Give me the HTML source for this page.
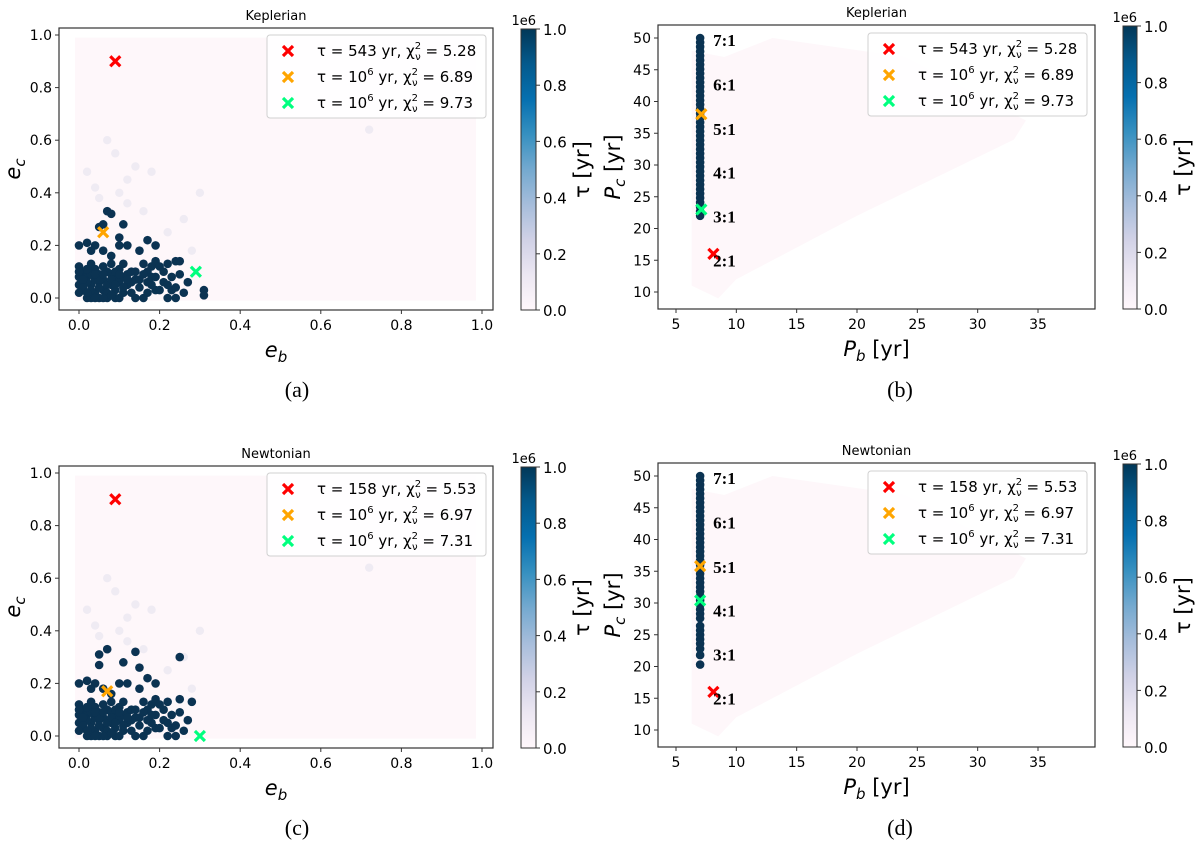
<!DOCTYPE html>
<html><head><meta charset="utf-8"><style>
body{margin:0;background:#fff}
svg{display:block;font-family:"DejaVu Sans","Liberation Sans",sans-serif}
</style></head><body>
<svg id="fig" width="1200" height="847" viewBox="0 0 1200 847" xmlns="http://www.w3.org/2000/svg">
<defs><linearGradient id="pubu" x1="0" y1="1" x2="0" y2="0">
<stop offset="0" stop-color="#fff7fb"/><stop offset="0.125" stop-color="#ece7f2"/><stop offset="0.25" stop-color="#d0d1e6"/><stop offset="0.375" stop-color="#a6bddb"/><stop offset="0.5" stop-color="#74a9cf"/><stop offset="0.625" stop-color="#3690c0"/><stop offset="0.75" stop-color="#0570b0"/><stop offset="0.875" stop-color="#045a8d"/><stop offset="1" stop-color="#023858"/></linearGradient></defs>
</svg>
<script>
// ---- data ----
const eccTicks = [0, 0.2, 0.4, 0.6, 0.8, 1.0];
const eccTickLabels = ["0.0","0.2","0.4","0.6","0.8","1.0"];
const pbTicks = [5,10,15,20,25,30,35];
const pcTicks = [10,15,20,25,30,35,40,45,50];
const cbarTicks = [0,0.2,0.4,0.6,0.8,1.0];
const cbarLabels = ["0.0","0.2","0.4","0.6","0.8","1.0"];
const resonanceLabels = ["7:1","6:1","5:1","4:1","3:1","2:1"];
const resonancePc = [49.7,42.7,35.7,28.8,21.9,15.0];
const darkCommonEb = [0,0.02,0.04,0.03,0.06,0.08,0.10,0.12,0.15,0.17,0.0,0.01,0.02,0.03,0.04,0.05,0.06,0.07,0.08,0.09,0.10,0.11,0.12,0.13,0.14,0.16,0.17,0.18,0.19,0.20,0.21,0.22,0.23,0.25,0.27,0.0,0.01,0.02,0.03,0.04,0.05,0.06,0.07,0.08,0.09,0.10,0.11,0.12,0.13,0.15,0.16,0.17,0.18,0.19,0.22,0.23,0.24,0.26,0.0,0.02,0.04,0.06,0.08,0.03,0.05,0.09,0.14,
 0.01,0.03,0.05,0.07,0.09,0.11,0.13,0.0,0.02,0.04,0.06,0.08,0.10,0.12,0.14,0.01,0.03,0.05,0.07,0.09,0.11,0.0,0.02,0.04,0.06,0.08,0.10,0.15,0.17,0.19,0.21,0.16,0.18,0.20,0.22,0.24];
const darkCommonEc = [0.2,0.21,0.2,0.18,0.18,0.16,0.2,0.2,0.18,0.22,0.12,0.1,0.08,0.13,0.11,0.09,0.12,0.1,0.13,0.08,0.11,0.13,0.09,0.1,0.07,0.13,0.1,0.12,0.14,0.12,0.1,0.13,0.08,0.09,0.06,0.05,0.03,0.0,0.05,0.02,0.06,0.03,0.0,0.05,0.03,0.06,0.02,0.05,0.02,0.04,0.0,0.02,0.05,0.03,0.0,0.03,0.0,0.02,0.08,0.06,0.07,0.07,0.09,0.0,0.0,0.0,0.0,
 0.07,0.09,0.07,0.05,0.1,0.08,0.06,0.1,0.11,0.09,0.09,0.07,0.09,0.07,0.1,0.04,0.03,0.04,0.02,0.05,0.04,0.02,0.02,0.0,0.0,0.01,0.0,0.07,0.06,0.08,0.06,0.09,0.08,0.03,0.05,0.04];
const darkExtraAEb = [0.05,0.06,0.07,0.08,0.11,0.10,0.19,0.24,0.25,0.31,0.31];
const darkExtraAEc = [0.27,0.28,0.33,0.32,0.28,0.23,0.2,0.14,0.14,0.03,0.01];
const darkExtraCEb = [0.05,0.07,0.14,0.25,0.11,0.15,0.05,0.19,0.25,0.28,0.02];
const darkExtraCEc = [0.31,0.33,0.32,0.30,0.28,0.26,0.27,0.20,0.14,0.13,0.21];
const paleEb = [0.07,0.09,0.14,0.12,0.1,0.18,0.02,0.04,0.12,0.05,0.16,0.26,0.3,0.22,0.28,0.72];
const paleEc = [0.6,0.55,0.5,0.45,0.4,0.48,0.48,0.42,0.36,0.38,0.33,0.3,0.4,0.25,0.18,0.64];
const colBPc = [22,22.7,23.4,24.1,24.8,25.5,26.2,26.9,27.6,28.3,29,29.7,30.4,31.1,31.8,32.5,33.2,33.9,34.6,35.3,36,36.7,37.4,38.1,38.8,39.5,40.2,40.9,41.6,42.3,43,43.7,44.4,45.1,45.8,46.5,47.2,47.9,48.6,49.3,50];
const colDPc = [20.3,21.8,22.8,23.6,24.3,25,25.7,26.4,27.6,28.3,29,29.7,30.4,31.1,31.8,32.5,33.2,33.9,34.6,35.3,36,36.7,37.4,38.1,38.8,39.5,40.2,40.9,41.6,42.3,43,43.7,44.4,45.1,45.8,46.5,47.2,47.9,48.6,49.3,50];
const regionPb = [6.3,9,13,24,34,33,20,10,8.5,6.3];
const regionPc = [48,47,50,47,37,34,22,12,9,11];
const bestA = {eb:[0.09,0.06,0.29], ec:[0.9,0.25,0.10], tau:["543","10^6","10^6"], chi:["5.28","6.89","9.73"]};
const bestC = {eb:[0.09,0.07,0.30], ec:[0.9,0.17,0.0], tau:["158","10^6","10^6"], chi:["5.53","6.97","7.31"]};
const bestB = {pb:[8.1,7.1,7.1], pc:[16,38,23], tau:["543","10^6","10^6"], chi:["5.28","6.89","9.73"]};
const bestD = {pb:[8.1,7.0,7.0], pc:[16,35.8,30.4], tau:["158","10^6","10^6"], chi:["5.53","6.97","7.31"]};
const markerColors = ["#ff0000","#ffa500","#00ff7f"];

const NS="http://www.w3.org/2000/svg";
const svg=document.getElementById('fig');
function mk(tag,attrs,parent,text){const e=document.createElementNS(NS,tag);for(const k in attrs)e.setAttribute(k,attrs[k]);if(text!==undefined)e.textContent=text;(parent||svg).appendChild(e);return e;}
function lin(d0,d1,r0,r1){return v=>r0+(v-d0)*(r1-r0)/(d1-d0);}

function xMarker(g,x,y,c){
  const p=mk('path',{d:`M${x-5},${y-5}L${x+5},${y+5}M${x-5},${y+5}L${x+5},${y-5}`,stroke:c,'stroke-width':3.2,fill:'none'},g);
  
  
}

function legendText(g,x,y,tau,chi){
  const t=mk('text',{x:x,y:y,'font-size':15},g);
  
  
  if(tau==="10^6"){
    mk('tspan',{},t,'τ = 10');
    mk('tspan',{dy:-7,'font-size':10},t,'6');
    mk('tspan',{dy:7},t,' yr, χ');
  } else mk('tspan',{},t,'τ = '+tau+' yr, χ');
  mk('tspan',{dy:-7,'font-size':10},t,'2');
  mk('tspan',{dx:-6,dy:11,'font-size':10},t,'ν');
  mk('tspan',{dy:-4},t,' = '+chi);
}

function panel(o){
  const g=mk('g',{});
  
  
  const [L,T,R,B]=o.frame;
  const sx=o.sx, sy=o.sy;
  if(o.type==='ecc'){
    const bg=mk('rect',{x:sx(-0.01),y:sy(0.99),width:sx(0.985)-sx(-0.01),height:sy(-0.01)-sy(0.99),fill:'#fef7fa'},g);
    
    
    paleEb.forEach((v,i)=>{const c=mk('circle',{cx:sx(v),cy:sy(paleEc[i]),r:4.2,fill:'#efebf3'},g);
      
      });
    const eb=darkCommonEb.concat(o.exEb), ec=darkCommonEc.concat(o.exEc);
    eb.forEach((v,i)=>{const c=mk('circle',{cx:sx(v),cy:sy(ec[i]),r:4.3,fill:'#0b3352'},g);
      
      });
    o.best.eb.forEach((v,i)=>xMarker(g,sx(v),sy(o.best.ec[i]),markerColors[i]));
  } else {
    const pts=regionPb.map((v,i)=>sx(v)+','+sy(regionPc[i])).join(' ');
    const bg=mk('polygon',{points:pts,fill:'#fef7fa'},g);
    
    
    o.col.forEach(v=>{const c=mk('circle',{cx:sx(7.0),cy:sy(v),r:4.3,fill:'#0b3352'},g);
      
      });
    o.best.pb.forEach((v,i)=>xMarker(g,sx(v),sy(o.best.pc[i]),markerColors[i]));
    resonanceLabels.forEach((s,i)=>{const t=mk('text',{x:sx(7.0)+13,y:sy(resonancePc[i])+6,'font-size':17,'font-weight':'bold','font-family':'"Liberation Serif",serif'},g,s);
      
      });
  }
  const fr=mk('rect',{x:L,y:T,width:R-L,height:B-T,fill:'none',stroke:'#333','stroke-width':1.2},g);
  
  
  o.xt.forEach((v,i)=>{const x=sx(v);mk('line',{x1:x,x2:x,y1:B,y2:B+4,stroke:'#333'},g);
    const t=mk('text',{x:x,y:B+20,'font-size':14,'text-anchor':'middle'},g,o.xl[i]);
    
    });
  o.yt.forEach((v,i)=>{const y=sy(v);mk('line',{x1:L-4,x2:L,y1:y,y2:y,stroke:'#333'},g);
    const t=mk('text',{x:L-7,y:y+5,'font-size':14,'text-anchor':'end'},g,o.yl[i]);
    
    });
  const ti=mk('text',{x:(L+R)/2,y:T-8,'font-size':13,'text-anchor':'middle'},g,o.title);
  
  
  const xl=mk('text',{x:(L+R)/2,y:B+47,'font-size':21,'text-anchor':'middle'},g);
  
  
  mk('tspan',{'font-style':'italic'},xl,o.xv);
  mk('tspan',{'font-size':15,dy:5,'font-style':'italic'},xl,'b');
  if(o.unit) mk('tspan',{dy:-5},xl,' [yr]');
  const yx=o.ylx, yy=(T+B)/2;
  const yl=mk('text',{x:yx,y:yy,'font-size':21,'text-anchor':'middle',transform:`rotate(-90 ${yx} ${yy})`},g);
  
  
  mk('tspan',{'font-style':'italic'},yl,o.xv);
  mk('tspan',{'font-size':15,dy:5,'font-style':'italic'},yl,'c');
  if(o.unit) mk('tspan',{dy:-5},yl,' [yr]');
  const [lx,ly,lr,lb]=o.leg;
  const lg=mk('g',{},g);
  
  
  mk('rect',{x:lx,y:ly,width:lr-lx,height:lb-ly,rx:3,fill:'#fff','fill-opacity':0.85,stroke:'#d0d0d0'},lg);
  [16,42,68].forEach((dy,i)=>{xMarker(lg,lx+21,ly+dy,markerColors[i]);legendText(lg,lx+50,ly+dy+5,o.best.tau[i],o.best.chi[i]);});
  const [cl,ct,cr,cb]=o.cbar;
  const cg=mk('g',{},g);
  
  
  mk('rect',{x:cl,y:ct,width:cr-cl,height:cb-ct,fill:'url(#pubu)',stroke:'#333','stroke-width':1},cg);
  const cy=lin(0,1,cb,ct);
  cbarTicks.forEach((v,i)=>{const y=cy(v);mk('line',{x1:cr,x2:cr+4,y1:y,y2:y,stroke:'#333'},cg);
    const t=mk('text',{x:cr+7,y:y+6,'font-size':15},cg,cbarLabels[i]);
    
    });
  const e6=mk('text',{x:cr,y:ct-4,'font-size':13,'text-anchor':'end'},cg,'1e6');
  
  
  const tx=cr+53, ty=(ct+cb)/2;
  const ct2=mk('text',{x:tx,y:ty,'font-size':21,'text-anchor':'middle',transform:`rotate(-90 ${tx} ${ty})`},cg,'τ [yr]');
  
  
  const pl=mk('text',{x:o.lab[0],y:o.lab[1],'font-size':22,'text-anchor':'middle','font-family':'"Liberation Serif",serif'},g,o.letter);
  
  
}

function eccPanel(off,name,title,best,exEb,exEc,letter){
  panel({name,type:'ecc',frame:[59,28+off,493,310+off],sx:lin(0,1,79,482),sy:lin(0,1,298+off,35+off),
    xt:eccTicks,xl:eccTickLabels,yt:eccTicks,yl:eccTickLabels,title,best,exEb,exEc,xv:'e',unit:false,ylx:20,
    leg:[267,35+off,486,118+off],cbar:[521,29+off,536,310+off],lab:[297,397+off],letter});
}
function perPanel(off,name,title,best,col,letter){
  panel({name,type:'per',frame:[658,25+off,1095,309+off],sx:lin(5,35,676,1038),sy:lin(10,50,292+off,38+off),
    xt:pbTicks,xl:pbTicks.map(String),yt:pcTicks,yl:pcTicks.map(String),title,best,col,xv:'P',unit:true,ylx:620,
    leg:[868,33+off,1087,116+off],cbar:[1123,26+off,1137,309+off],lab:[900,397+off],letter});
}
eccPanel(0,'panel-a','Keplerian',bestA,darkExtraAEb,darkExtraAEc,'(a)');
perPanel(0,'panel-b','Keplerian',bestB,colBPc,'(b)');
eccPanel(438,'panel-c','Newtonian',bestC,darkExtraCEb,darkExtraCEc,'(c)');
perPanel(438,'panel-d','Newtonian',bestD,colDPc,'(d)');
</script>
</body></html>
